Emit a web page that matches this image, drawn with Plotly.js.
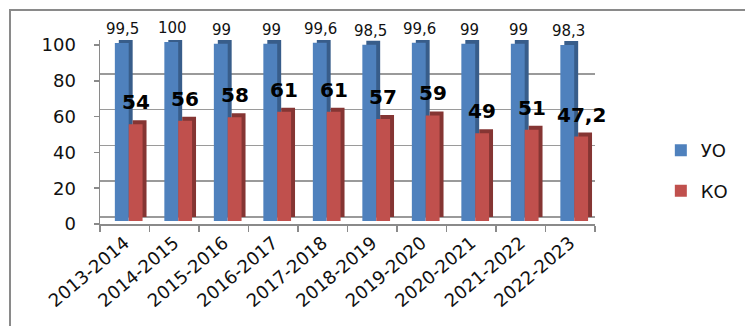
<!DOCTYPE html>
<html>
<head>
<meta charset="utf-8">
<script src="https://cdn.plot.ly/plotly-3.0.1.min.js"></script>
<style>
html,body{margin:0;padding:0;background:#fff;overflow:hidden;}
#frame{position:absolute;left:9px;top:9px;width:800px;height:400px;border:2px solid #8a8a8a;box-sizing:border-box;}
#chart{position:absolute;left:0;top:0;width:745px;height:326px;}
</style>
</head>
<body>
<div id="frame"></div>
<div id="chart"></div>
<script>
var categories = ["2013-2014","2014-2015","2015-2016","2016-2017","2017-2018","2018-2019","2019-2020","2020-2021","2021-2022","2022-2023"];
var uoValues = [99.5, 100, 99, 99, 99.6, 98.5, 99.6, 99, 99, 98.3];
var koValues = [54, 56, 58, 61, 61, 57, 59, 49, 51, 47.2];
var uoLabels = ["99,5","100","99","99","99,6","98,5","99,6","99","99","98,3"];
var koLabels = ["54","56","58","61","61","57","59","49","51","47,2"];
var tickValues = [0, 20, 40, 60, 80, 100];

var BLUE = "#4F81BD", BLUE_D = "#385D8A";
var RED = "#C0504D", RED_D = "#853533";
var FONT = "DejaVu Sans";

var pxPerUnit = 1.79, plotH = 184;
var span = plotH / pxPerUnit;
var gridMin = -7 / pxPerUnit, barMin = -3 / pxPerUnit;

var traces = [
  // depth (side/top faces) on the back-wall axis
  {type:"bar", x:categories, y:uoValues, yaxis:"y", offset:-0.12, width:0.28,
   marker:{color:BLUE_D}, showlegend:false, hoverinfo:"skip"},
  {type:"bar", x:categories, y:koValues, yaxis:"y", offset:0.16, width:0.28,
   marker:{color:RED_D}, showlegend:false, hoverinfo:"skip"},
  // front faces
  {type:"bar", name:"УО", x:categories, y:uoValues, yaxis:"y2", offset:-0.2, width:0.28,
   marker:{color:BLUE}, legendgroup:"a"},
  {type:"bar", name:"КО", x:categories, y:koValues, yaxis:"y2", offset:0.08, width:0.28,
   marker:{color:RED}, legendgroup:"b"},
  // anchor for label axis
  {type:"scatter", mode:"markers", x:categories, y:koValues, yaxis:"y3",
   marker:{opacity:0}, showlegend:false, hoverinfo:"skip"}
];

var annotations = [];
categories.forEach(function(c, i){
  annotations.push({x:c, y:uoValues[i], xref:"x", yref:"y2", text:uoLabels[i], showarrow:false,
    xshift:-2, yshift:14, yanchor:"middle", font:{family:FONT, size:15, color:"#111"}});
  annotations.push({x:c, y:koValues[i], xref:"x", yref:"y2", text:koLabels[i], showarrow:false,
    xshift:11, yshift:22, yanchor:"middle", font:{family:FONT, size:20, color:"#000", weight:"bold"}});
});

var layout = {
  width:745, height:326,
  margin:{l:100, r:129, t:40, b:102, pad:0},
  paper_bgcolor:"rgba(0,0,0,0)", plot_bgcolor:"rgba(0,0,0,0)",
  barmode:"overlay",
  font:{family:FONT, color:"#111"},
  showlegend:true,
  legend:{x:1.133, y:0.29, xanchor:"left", yanchor:"middle", font:{family:FONT, size:18, color:"#111"},
    tracegroupgap:14, itemwidth:30, bgcolor:"rgba(0,0,0,0)"},
  xaxis:{type:"category", showline:true, linecolor:"#8a8a8a", linewidth:1.5,
    ticks:"outside", tickson:"boundaries", ticklen:6, tickcolor:"#8a8a8a", tickwidth:1.5,
    tickangle:-40, tickfont:{family:FONT, size:18, color:"#111"}, showgrid:false, zeroline:false,
    range:[-0.5, 9.5]},
  yaxis:{range:[gridMin, gridMin+span], tick0:0, dtick:20, showgrid:true, gridcolor:"#9a9a9a", gridwidth:1.5,
    showticklabels:false, ticks:"", zeroline:false, showline:false},
  yaxis2:{range:[barMin, barMin+span], overlaying:"y", visible:false},
  yaxis3:{range:[0, span], overlaying:"y", side:"left", tickmode:"array", tickvals:tickValues,
    showgrid:false, zeroline:false, showline:true, linecolor:"#8a8a8a", linewidth:1.5,
    ticks:"outside", ticklen:5, tickcolor:"#8a8a8a", tickwidth:1.5, ticklabelstandoff:14,
    tickfont:{family:FONT, size:18, color:"#111"}},
  annotations:annotations
};

Plotly.newPlot("chart", traces, layout, {displayModeBar:false, staticPlot:true});
</script>
</body>
</html>
